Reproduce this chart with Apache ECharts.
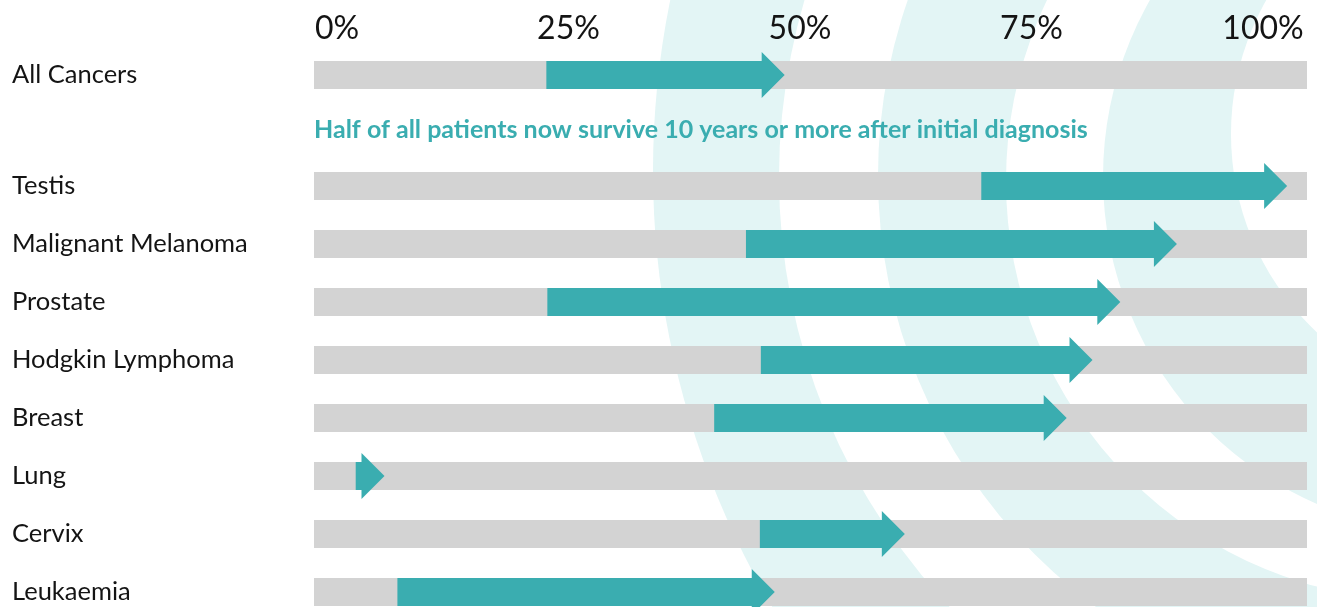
<!DOCTYPE html>
<html>
<head>
<meta charset="utf-8">
<script src="https://cdn.jsdelivr.net/npm/echarts@6/dist/echarts.min.js"></script>
<style>
  html, body { margin: 0; padding: 0; background: #fff; }
  #chart { width: 1317px; height: 607px; }
</style>
</head>
<body>
<div id="chart"></div>
<script>
// headline row
var topCategory = ['All Cancers'];
var topStart = [23.4];
var topEnd = [47.4];

// per cancer rows, 10 year survival (%) then -> now
var categories = ['Testis', 'Malignant Melanoma', 'Prostate', 'Hodgkin Lymphoma', 'Breast', 'Lung', 'Cervix', 'Leukaemia'];
var startValues = [67.2, 43.5, 23.5, 45.0, 40.3, 4.2, 44.9, 8.4];
var endValues = [98.0, 86.9, 81.2, 78.4, 75.8, 7.1, 59.5, 46.4];

var tickValues = [0, 25, 50, 75, 100];
var note = 'Half of all patients now survive 10 years or more after initial diagnosis';

var teal = '#3aadb0';
var track = '#d3d3d3';
var pale = '#e3f5f5';
var font = 'Lato';

var chart = echarts.init(document.getElementById('chart'));

function drawArrow(params, api) {
    var from = api.coord([api.value(0), api.value(2)]);
    var to = api.coord([api.value(1), api.value(2)]);
    var y = from[1];
    var half = 14, headHalf = 23, headLen = 23;
    var neck = Math.max(from[0], to[0] - headLen);
    return {
        type: 'polygon',
        shape: {
            points: [
                [from[0], y - half], [neck, y - half], [neck, y - headHalf],
                [to[0], y],
                [neck, y + headHalf], [neck, y + half], [from[0], y + half]
            ]
        },
        style: { fill: teal }
    };
}

function arrowData(starts, ends) {
    return starts.map(function (s, i) { return [s, ends[i], i]; });
}

// decorative rings behind the chart
var rings = [
    { cx: 1509, cy: 171, r: 856, fill: pale },
    { cx: 1406, cy: 177, r: 627, fill: '#fff' },
    { cx: 1413, cy: 176, r: 535, fill: pale },
    { cx: 1426, cy: 181, r: 420, fill: '#fff' },
    { cx: 1460, cy: 177, r: 357, fill: pale },
    { cx: 1503, cy: 134, r: 272, fill: '#fff' }
];

var hiddenValueAxis = function (grid) {
    return {
        type: 'value', gridIndex: grid, min: 0, max: 100,
        show: false
    };
};
var labelCategoryAxis = function (grid, data, gap) {
    return {
        type: 'category', gridIndex: grid, data: data, inverse: true,
        boundaryGap: gap,
        axisLine: { show: false }, axisTick: { show: false },
        axisLabel: {
            align: 'left', margin: 302, fontSize: 25.5,
            color: '#141414', fontFamily: font
        }
    };
};

var option = {
    animation: false,
    backgroundColor: '#fff',
    title: {
        text: note,
        left: 314,
        top: 117,
        padding: 0,
        textStyle: { color: teal, fontSize: 25, fontWeight: 'bold', fontFamily: font }
    },
    graphic: {
        elements: rings.map(function (c) {
            return {
                type: 'circle', silent: true, z: -10,
                shape: { cx: c.cx, cy: c.cy, r: c.r },
                style: { fill: c.fill }
            };
        })
    },
    grid: [
        { left: 314, right: 10, top: 47, height: 56 },
        { left: 314, right: 10, top: 186, height: 406 },
        { left: 337, right: 54, top: 47, height: 10 }
    ],
    xAxis: [
        hiddenValueAxis(0),
        hiddenValueAxis(1),
        {
            type: 'value', gridIndex: 2, position: 'top',
            min: tickValues[0], max: tickValues[tickValues.length - 1],
            interval: tickValues[1] - tickValues[0],
            axisLine: { show: false }, axisTick: { show: false }, splitLine: { show: false },
            axisLabel: {
                margin: 2, fontSize: 32, color: '#141414', fontFamily: font,
                formatter: '{value}%'
            }
        }
    ],
    yAxis: [
        labelCategoryAxis(0, topCategory, true),
        labelCategoryAxis(1, categories, false),
        { type: 'category', gridIndex: 2, show: false, data: [''] }
    ],
    series: [
        {
            type: 'bar', xAxisIndex: 0, yAxisIndex: 0,
            data: topEnd, barWidth: 28, silent: true,
            itemStyle: { color: 'rgba(0,0,0,0)' },
            showBackground: true,
            backgroundStyle: { color: track }
        },
        {
            type: 'bar', xAxisIndex: 1, yAxisIndex: 1,
            data: endValues, barWidth: 28, silent: true,
            itemStyle: { color: 'rgba(0,0,0,0)' },
            showBackground: true,
            backgroundStyle: { color: track }
        },
        {
            type: 'custom', xAxisIndex: 0, yAxisIndex: 0,
            renderItem: drawArrow, clip: false, z: 5,
            encode: { x: [0, 1], y: 2 },
            data: arrowData(topStart, topEnd)
        },
        {
            type: 'custom', xAxisIndex: 1, yAxisIndex: 1,
            renderItem: drawArrow, clip: false, z: 5,
            encode: { x: [0, 1], y: 2 },
            data: arrowData(startValues, endValues)
        }
    ]
};

chart.setOption(option);
</script>
</body>
</html>
